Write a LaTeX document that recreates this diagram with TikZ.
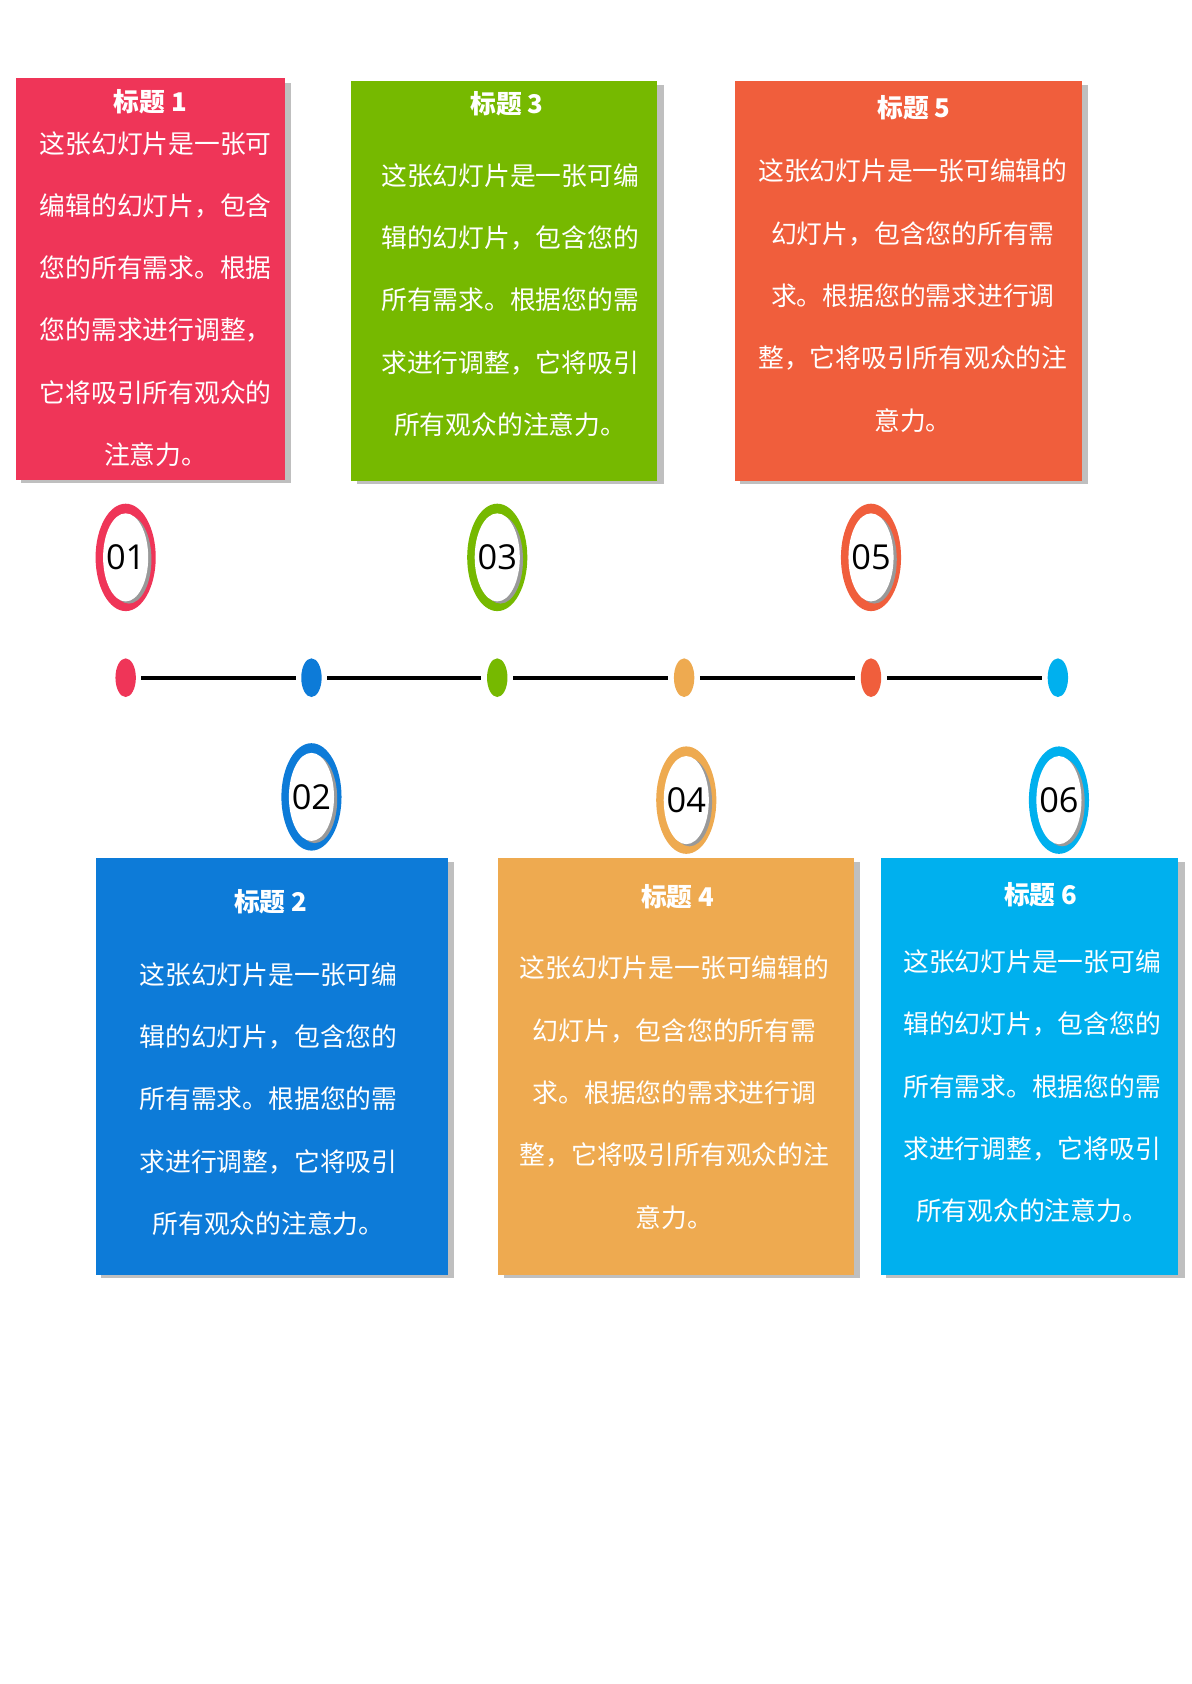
\documentclass[tikz,border=0pt]{standalone}
\usepackage{fontspec}
\usetikzlibrary{shapes.geometric}
\setmainfont{Noto Sans CJK SC}
\newfontfamily\numfont{Open Sans}
\begin{document}
\begin{tikzpicture}[x=1pt,y=-1pt,
  body/.style={text=white,align=center,anchor=north,inner sep=0pt,font=\fontsize{24}{58}\selectfont},
  ttl/.style={text=white,font=\fontsize{24}{28}\selectfont\bfseries},
  shade/.style={fill=black!25},
  num/.style={font=\numfont\fontsize{32}{34}\selectfont}]
\definecolor{c1}{HTML}{EF3558}\definecolor{c2}{HTML}{0D7BD8}\definecolor{c3}{HTML}{76B900}
\definecolor{c4}{HTML}{EEAA50}\definecolor{c5}{HTML}{F05E3C}\definecolor{c6}{HTML}{00B0EE}
\useasboundingbox (0,0) rectangle (1109,1568);
\fill[white] (0,0) rectangle (1109,1568);
\newcommand\mybox[5]{\fill[shade] (#1+5,#2+4) rectangle (#3+6,#4+3); \fill[#5] (#1,#2) rectangle (#3,#4);}
\mybox{15}{73}{265}{447}{c1}
\mybox{327}{75}{612}{448}{c3}
\mybox{684}{75}{1007}{448}{c5}
\mybox{89}{799}{417}{1187}{c2}
\mybox{464}{799}{795}{1187}{c4}
\mybox{820}{799}{1097}{1187}{c6}
\node[ttl] (t1) at (140,95) {标题 1};
\node[body] (b1) at (145,122) {这张幻灯片是一张可\\编辑的幻灯片，包含\\您的所有需求。根据\\您的需求进行调整，\\它将吸引所有观众的\\注意力。};
\node[ttl] (t3) at (472,97) {标题 3};
\node[body] (b3) at (475,152) {这张幻灯片是一张可编\\辑的幻灯片，包含您的\\所有需求。根据您的需\\求进行调整，它将吸引\\所有观众的注意力。};
\node[ttl] (t5) at (851,100) {标题 5};
\node[body] (b5) at (850,148) {这张幻灯片是一张可编辑的\\幻灯片，包含您的所有需\\求。根据您的需求进行调\\整，它将吸引所有观众的注\\意力。};
\node[ttl] (t2) at (252,840) {标题 2};
\node[body] (b2) at (250,896) {这张幻灯片是一张可编\\辑的幻灯片，包含您的\\所有需求。根据您的需\\求进行调整，它将吸引\\所有观众的注意力。};
\node[ttl] (t4) at (631,835) {标题 4};
\node[body] (b4) at (628,890) {这张幻灯片是一张可编辑的\\幻灯片，包含您的所有需\\求。根据您的需求进行调\\整，它将吸引所有观众的注\\意力。};
\node[ttl] (t6) at (969,833) {标题 6};
\node[body] (b6) at (961,884) {这张幻灯片是一张可编\\辑的幻灯片，包含您的\\所有需求。根据您的需\\求进行调整，它将吸引\\所有观众的注意力。};
\foreach \n/\x/\y/\c in {01/117/519/c1,03/463/519/c3,05/811/519/c5,02/290/742/c2,04/639/745/c4,06/986/745/c6}{
  \fill[\c] (\x,\y) ellipse [x radius=28,y radius=50];
  \fill[black!40] (\x+3,\y+2) ellipse [x radius=21,y radius=41];
  \fill[white] (\x,\y) ellipse [x radius=21,y radius=41];
  \node[num] (r\n) at (\x,\y) {\n};
}
\foreach \i/\x/\c in {1/117/c1,2/290/c2,3/463/c3,4/637/c4,5/811/c5,6/985/c6}{
  \node[ellipse,fill=\c,minimum width=19,minimum height=36,inner sep=0pt] (d\i) at (\x,631) {};
}
\foreach \a/\b in {1/2,2/3,3/4,4/5,5/6}{
  \draw[line width=4pt] ([xshift=5pt]d\a.east) -- ([xshift=-5pt]d\b.west);
}
\end{tikzpicture}
\end{document}
